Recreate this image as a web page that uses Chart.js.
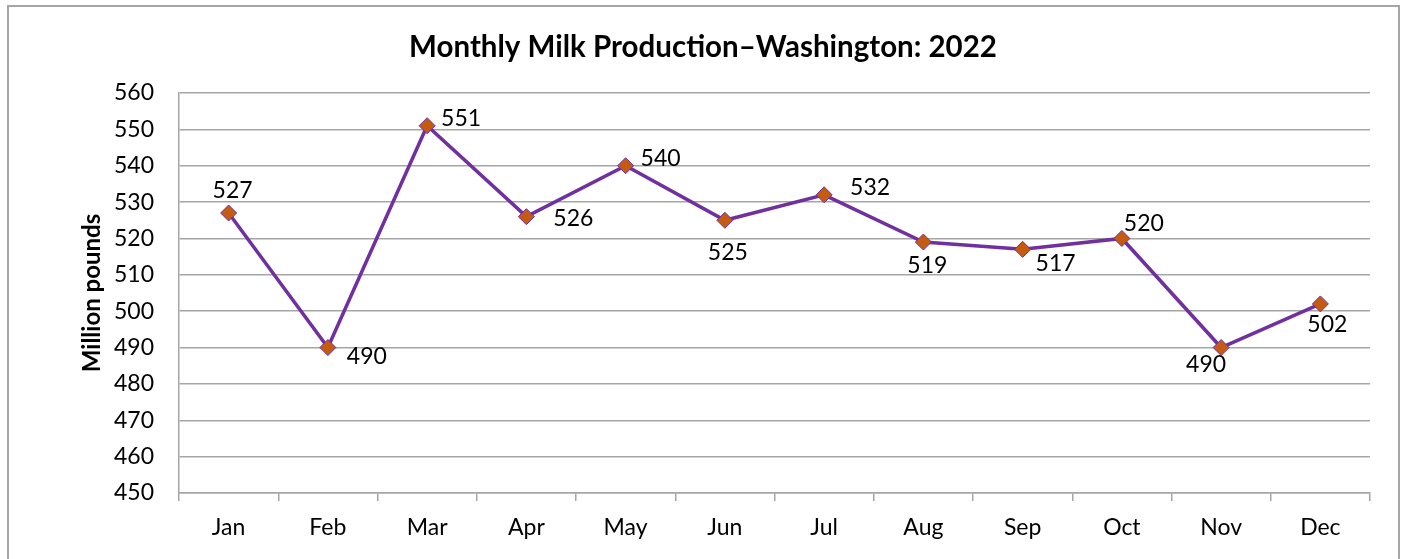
<!DOCTYPE html>
<html>
<head>
<meta charset="utf-8">
<script src="https://cdn.jsdelivr.net/npm/chart.js@4.4.0/dist/chart.umd.min.js"></script>
<style>
  html, body { margin: 0; padding: 0; background: #ffffff; }
  #wrap { position: relative; width: 1406px; height: 559px; overflow: hidden; }
  canvas { display: block; }
</style>
</head>
<body>
<div id="wrap"><canvas id="c" width="1406" height="559"></canvas></div>
<script>
// ---- data ----
const months = ["Jan", "Feb", "Mar", "Apr", "May", "Jun", "Jul", "Aug", "Sep", "Oct", "Nov", "Dec"];
const milkProduction = [527, 490, 551, 526, 540, 525, 532, 519, 517, 520, 490, 502];
const chartTitle = "Monthly Milk Production\u2013Washington: 2022";
const yAxisTitle = "Million pounds";
const yMin = 450;
const yMax = 560;
const yStep = 10;

const FONT = "Lato, 'Liberation Sans', sans-serif";

// label placement (style only): offset of label centre from marker centre
const labelPlacement = [
  [4, -22], [39, 9], [34, -7], [47, 2], [35, -7], [3, 32],
  [46, -7], [4, 23], [33, 14], [22, -15], [-15, 17], [7, 21]
];

const frameAndBackground = {
  id: 'frameAndBackground',
  beforeDraw(chart) {
    const ctx = chart.ctx;
    ctx.save();
    ctx.fillStyle = '#ffffff';
    ctx.fillRect(0, 0, chart.width, chart.height);
    ctx.strokeStyle = '#a6a6a6';
    ctx.lineWidth = 2;
    ctx.strokeRect(8, 6, 1391, 620);
    ctx.restore();
  }
};

const pointLabels = {
  id: 'pointLabels',
  afterDatasetsDraw(chart) {
    const ctx = chart.ctx;
    const meta = chart.getDatasetMeta(0);
    const values = chart.data.datasets[0].data;
    ctx.save();
    ctx.font = "23px " + FONT;
    ctx.fillStyle = '#000000';
    ctx.textAlign = 'center';
    ctx.textBaseline = 'middle';
    meta.data.forEach((pt, i) => {
      const off = labelPlacement[i];
      ctx.fillText(String(values[i]), pt.x + off[0], pt.y + off[1]);
    });
    ctx.restore();
  }
};

new Chart(document.getElementById('c'), {
  type: 'line',
  data: {
    labels: months,
    datasets: [{
      data: milkProduction,
      borderColor: '#7030A0',
      borderWidth: 3.5,
      tension: 0,
      fill: false,
      pointStyle: 'rectRot',
      pointRadius: 8,
      pointHoverRadius: 8,
      pointBackgroundColor: '#C55A11',
      pointBorderColor: '#7030A0',
      pointBorderWidth: 1
    }]
  },
  options: {
    responsive: false,
    animation: false,
    devicePixelRatio: 1,
    layout: { padding: { left: 36, right: 36, top: 0, bottom: 0 } },
    plugins: {
      legend: { display: false },
      tooltip: { enabled: false },
      title: {
        display: true,
        text: chartTitle,
        color: '#000000',
        font: { family: FONT, size: 29.5, weight: 'bold', lineHeight: 1.2 },
        padding: { top: 30, bottom: 27.6 }
      }
    },
    scales: {
      x: {
        type: 'category',
        offset: true,
        grid: {
          offset: true,
          drawOnChartArea: false,
          drawTicks: true,
          tickLength: 8,
          color: '#a6a6a6',
          lineWidth: 1.5
        },
        border: { display: true, color: '#a6a6a6', width: 1.5 },
        ticks: {
          color: '#000000',
          font: { family: FONT, size: 23 },
          padding: 13,
          maxRotation: 0,
          autoSkip: false
        },
        afterFit(scale) { scale.height = 66; }
      },
      y: {
        min: yMin,
        max: yMax,
        grid: {
          drawTicks: false,
          color: '#a6a6a6',
          lineWidth: 1.5
        },
        border: { display: true, color: '#a6a6a6', width: 1.5 },
        ticks: {
          stepSize: yStep,
          color: '#000000',
          font: { family: FONT, size: 23 },
          padding: 25
        },
        title: {
          display: true,
          text: yAxisTitle,
          color: '#000000',
          font: { family: FONT, size: 24, weight: 'bold', lineHeight: 1.2 },
          padding: { top: 42, bottom: 0 }
        },
        afterFit(scale) { scale.width = 143; }
      }
    }
  },
  plugins: [frameAndBackground, pointLabels]
});
</script>
</body>
</html>
